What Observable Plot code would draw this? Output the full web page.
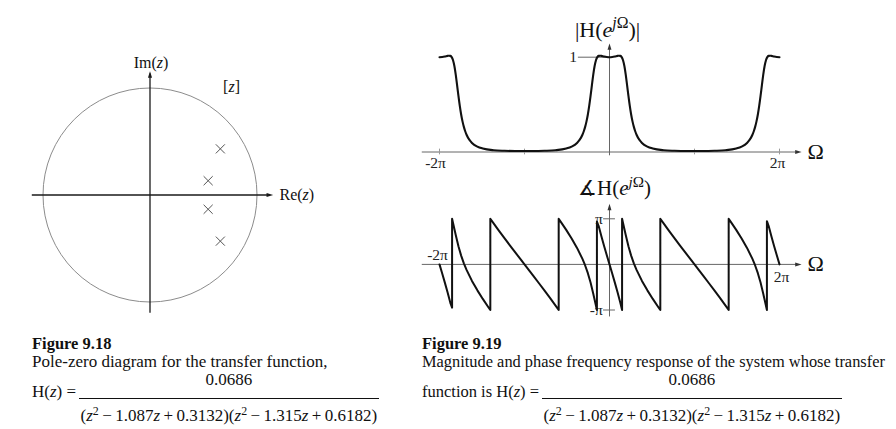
<!DOCTYPE html>
<html>
<head>
<meta charset="utf-8">
<script src="https://cdn.jsdelivr.net/npm/d3@7"></script>
<script src="https://cdn.jsdelivr.net/npm/@observablehq/plot@0.6"></script>
<style>
  html, body { margin: 0; padding: 0; background: #fff; }
  #root { position: relative; width: 896px; height: 429px; overflow: hidden; background: #fff;
          font-family: "Liberation Serif", "Times New Roman", serif; color: #111; }
  .panel { position: absolute; }
  .fig { position: absolute; font-weight: bold; font-size: 16.5px; line-height: 16.5px; white-space: nowrap; }
  .txt { position: absolute; font-size: 17px; line-height: 17px; white-space: nowrap; }
  .frac { position: absolute; display: flex; flex-direction: column; align-items: center; font-size: 17px; white-space: nowrap; }
  .frac .num { line-height: 17px; height: 17px; margin-bottom: 10px; }
  .frac .bar { align-self: stretch; height: 0; border-top: 1px solid #111; }
  .frac .den { line-height: 17px; height: 17px; margin-top: 8px; padding: 0 1.5px; }
  sup { font-size: 0.7em; vertical-align: 0.5em; line-height: 0; }
</style>
</head>
<body>
<div id="root">
  <div class="panel" id="pz" style="left:0px; top:0px"></div>
  <div class="panel" id="mag" style="left:360px; top:0px"></div>
  <div class="panel" id="pha" style="left:360px; top:180px"></div>

  <div class="fig" style="left:32px; top:336px">Figure 9.18</div>
  <div class="txt" style="left:32px; top:353px">Pole-zero diagram for the transfer function,</div>
  <div class="txt" id="pre1" style="left:32px; top:383px">H(<i>z</i>) =</div>
  <div class="frac" id="frac1" style="top:371px">
    <span class="num">0.0686</span><span class="bar"></span>
    <span class="den">(<i>z</i><sup>2</sup>&#8201;&#8722;&#8201;1.087<i>z</i>&#8201;+&#8201;0.3132)(<i>z</i><sup>2</sup>&#8201;&#8722;&#8201;1.315<i>z</i>&#8201;+&#8201;0.6182)</span>
  </div>

  <div class="fig" style="left:422px; top:336px">Figure 9.19</div>
  <div class="txt" style="left:422px; top:353px; font-size:16.4px">Magnitude and phase frequency response of the system whose transfer</div>
  <div class="txt" id="pre2" style="left:422px; top:383px; font-size:16.5px">function is H(<i>z</i>) =</div>
  <div class="frac" id="frac2" style="top:371px">
    <span class="num">0.0686</span><span class="bar"></span>
    <span class="den">(<i>z</i><sup>2</sup>&#8201;&#8722;&#8201;1.087<i>z</i>&#8201;+&#8201;0.3132)(<i>z</i><sup>2</sup>&#8201;&#8722;&#8201;1.315<i>z</i>&#8201;+&#8201;0.6182)</span>
  </div>
</div>
<script>
// ---------------- data ----------------
// Poles in the z-plane
const poleRe = [0.6575, 0.5435, 0.5435, 0.6575];
const poleIm = [0.4312, 0.1334, -0.1334, -0.4312];

// Magnitude |H(e^jΩ)| over -2π..2π
const magOmega = [
  -6.283, -6.183, -6.083, -5.983, -5.933, -5.883, -5.833, -5.783, -5.733, -5.683, -5.633, -5.583, -5.533, -5.483, -5.433, -5.383, -5.333, -5.283, -5.183, -5.083, -4.883, -4.683, -4.283, -3.883, -3.483, -3.142,
  -2.8, -2.4, -2.0, -1.6, -1.4, -1.2, -1.1, -1.0, -0.95, -0.9, -0.85, -0.8, -0.75, -0.7, -0.65, -0.6, -0.55, -0.5, -0.45, -0.4, -0.35, -0.3, -0.2, -0.1, 0,
  0.1, 0.2, 0.3, 0.35, 0.4, 0.45, 0.5, 0.55, 0.6, 0.65, 0.7, 0.75, 0.8, 0.85, 0.9, 0.95, 1.0, 1.1, 1.2, 1.4, 1.6, 2.0, 2.4, 2.8, 3.142,
  3.483, 3.883, 4.283, 4.683, 4.883, 5.083, 5.183, 5.283, 5.333, 5.383, 5.433, 5.483, 5.533, 5.583, 5.633, 5.683, 5.733, 5.783, 5.833, 5.883, 5.933, 5.983, 6.083, 6.183, 6.283
];
const magValue = [
  1.000, 1.002, 1.007, 1.014, 1.016, 1.014, 1.001, 0.968, 0.907, 0.817, 0.706, 0.591, 0.486, 0.396, 0.323, 0.265, 0.219, 0.182, 0.130, 0.096, 0.057, 0.037, 0.019, 0.013, 0.010, 0.010,
  0.010, 0.013, 0.019, 0.037, 0.057, 0.096, 0.130, 0.182, 0.219, 0.265, 0.323, 0.396, 0.486, 0.591, 0.706, 0.817, 0.907, 0.968, 1.001, 1.014, 1.016, 1.014, 1.007, 1.002, 1.000,
  1.002, 1.007, 1.014, 1.016, 1.014, 1.001, 0.968, 0.907, 0.817, 0.706, 0.591, 0.486, 0.396, 0.323, 0.265, 0.219, 0.182, 0.130, 0.096, 0.057, 0.037, 0.019, 0.013, 0.010, 0.010,
  0.010, 0.013, 0.019, 0.037, 0.057, 0.096, 0.130, 0.182, 0.219, 0.265, 0.323, 0.396, 0.486, 0.591, 0.706, 0.817, 0.907, 0.968, 1.001, 1.014, 1.016, 1.014, 1.007, 1.002, 1.000
];

// Phase ∡H(e^jΩ) over -2π..2π (wrapped, with the jumps)
const phaseOmega = [
  -6.283, -6.183, -6.083, -5.983, -5.883, -5.818, -5.818, -5.783, -5.683, -5.583, -5.483, -5.383, -5.283, -5.083, -4.883, -4.683, -4.483, -4.405, -4.405, -4.283, -4.083, -3.883, -3.683, -3.483, -3.283, -3.142,
  -3.0, -2.8, -2.6, -2.4, -2.2, -2.0, -1.878, -1.878, -1.8, -1.6, -1.4, -1.2, -1.0, -0.9, -0.8, -0.7, -0.6, -0.5, -0.465, -0.465, -0.4, -0.3, -0.2, -0.1, 0,
  0.1, 0.2, 0.3, 0.4, 0.465, 0.465, 0.5, 0.6, 0.7, 0.8, 0.9, 1.0, 1.2, 1.4, 1.6, 1.8, 1.878, 1.878, 2.0, 2.2, 2.4, 2.6, 2.8, 3.0, 3.142,
  3.283, 3.483, 3.683, 3.883, 4.083, 4.283, 4.405, 4.405, 4.483, 4.683, 4.883, 5.083, 5.283, 5.383, 5.483, 5.583, 5.683, 5.783, 5.818, 5.818, 5.883, 5.983, 6.083, 6.183, 6.283
];
const phaseValue = [
  0, -0.631, -1.272, -1.935, -2.645, -2.98, 3.142, 2.859, 2.029, 1.252, 0.605, 0.073, -0.378, -1.138, -1.789, -2.379, -2.932, -3.142, 3.142, 2.821, 2.309, 1.808, 1.315, 0.827, 0.342, 0,
  -0.342, -0.827, -1.315, -1.808, -2.309, -2.821, -3.142, 3.142, 2.932, 2.379, 1.789, 1.138, 0.378, -0.073, -0.605, -1.252, -2.029, -2.859, -3.142, 2.95, 2.645, 1.935, 1.272, 0.631, 0,
  -0.631, -1.272, -1.935, -2.645, -3.142, 3.142, 2.859, 2.029, 1.252, 0.605, 0.073, -0.378, -1.138, -1.789, -2.379, -2.932, -3.142, 3.142, 2.821, 2.309, 1.808, 1.315, 0.827, 0.342, 0,
  -0.342, -0.827, -1.315, -1.808, -2.309, -2.821, -3.142, 3.142, 2.932, 2.379, 1.789, 1.138, 0.378, -0.073, -0.605, -1.252, -2.029, -2.859, -3.142, 2.98, 2.645, 1.935, 1.272, 0.631, 0
];

// Tick values and labels
const freqTickValues = [-6.2832, -3.1416, 3.1416, 6.2832];
const freqTickLabels = ["-2π", "2π"];
const magTickValues = [1];
const magTickLabels = ["1"];
const phaseTickValues = [3.1416, -3.1416];
const phaseTickLabels = ["π", "-π"];

// ---------------- helpers ----------------
const SERIF = "'Liberation Serif', 'Times New Roman', serif";
const arrowRight = { draw(ctx, size) { const r = Math.sqrt(size / Math.PI); ctx.moveTo(0, 0); ctx.lineTo(-2 * r, -0.62 * r); ctx.lineTo(-2 * r, 0.62 * r); ctx.closePath(); } };
const arrowUp = { draw(ctx, size) { const r = Math.sqrt(size / Math.PI); ctx.moveTo(0, 0); ctx.lineTo(-0.62 * r, 2 * r); ctx.lineTo(0.62 * r, 2 * r); ctx.closePath(); } };
const svgStyle = { background: "transparent", overflow: "visible", fontFamily: SERIF };

// mini markup: _x_ italic, ^x^ superscript
function richify(svg) {
  const ns = "http://www.w3.org/2000/svg";
  svg.querySelectorAll("text").forEach(t => {
    const s = t.textContent;
    if (!/[_^]/.test(s)) return;
    const fs = parseFloat(getComputedStyle(t).fontSize) || 16;
    t.textContent = "";
    let italic = false, sup = false, buf = "", nextDy = 0;
    const flush = () => {
      if (!buf) return;
      const ts = document.createElementNS(ns, "tspan");
      if (italic) ts.setAttribute("font-style", "italic");
      if (sup) ts.setAttribute("font-size", (fs * 0.72).toFixed(2));
      if (nextDy) { ts.setAttribute("dy", nextDy.toFixed(2)); nextDy = 0; }
      ts.textContent = buf; t.appendChild(ts); buf = "";
    };
    for (const ch of s) {
      if (ch === "_") { flush(); italic = !italic; }
      else if (ch === "^") { flush(); sup = !sup; nextDy += sup ? -fs * 0.42 : fs * 0.42; }
      else buf += ch;
    }
    flush();
  });
}

// ---------------- pole-zero diagram ----------------
const poles = poleRe.map((re, i) => ({ re, im: poleIm[i] }));
const pz = Plot.plot({
  width: 360, height: 330,
  style: svgStyle,
  x: { domain: [-1, 1], range: [42.5, 256.5], axis: null },
  y: { domain: [-1, 1], range: [301.5, 87.5], axis: null },
  r: { type: "linear", domain: [0, 1], range: [0, 107] },
  marks: [
    Plot.dot([{ x: 0, y: 0, r: 1 }], { x: "x", y: "y", r: "r", stroke: "#8c8c8c", strokeWidth: 1, fill: "none" }),
    Plot.ruleY([0], { x1: -1.10, x2: 1.12, stroke: "#1a1a1a", strokeWidth: 1.3 }),
    Plot.ruleX([0], { y1: -1.105, y2: 1.13, stroke: "#1a1a1a", strokeWidth: 1.3 }),
    Plot.dot([{ x: 1.151, y: 0 }], { x: "x", y: "y", symbol: arrowRight, r: 3.3, fill: "#1a1a1a", stroke: "none" }),
    Plot.dot([{ x: 0, y: 1.157 }], { x: "x", y: "y", symbol: arrowUp, r: 3.3, fill: "#1a1a1a", stroke: "none" }),
    Plot.dot(poles, { x: "re", y: "im", symbol: "times", r: 4.2, stroke: "#555", strokeWidth: 1 }),
    Plot.text(["Im(_z_)"], { x: 0.01, y: 1.238, text: d => d, fontSize: 16, fontFamily: SERIF, fill: "#111" }),
    Plot.text(["[_z_]"], { x: 0.762, y: 1.014, text: d => d, fontSize: 16, fontFamily: SERIF, fill: "#111" }),
    Plot.text(["Re(_z_)"], { x: 1.21, y: 0, text: d => d, textAnchor: "start", fontSize: 16, fontFamily: SERIF, fill: "#111" })
  ]
});
document.getElementById("pz").appendChild(pz);
richify(pz);

// ---------------- magnitude ----------------
const magData = magOmega.map((w, i) => ({ w, v: magValue[i] }));
const mag = Plot.plot({
  width: 536, height: 180,
  style: svgStyle,
  x: { domain: [-6.2832, 6.2832], range: [79, 419], axis: null },
  y: { domain: [0, 1], range: [151.5, 56.7], axis: null },
  marks: [
    Plot.ruleY([0], { x1: -6.92, x2: 6.95, stroke: "#666", strokeWidth: 1 }),
    Plot.ruleX(freqTickValues, { y1: -0.03, y2: 0.03, stroke: "#999", strokeWidth: 1 }),
    Plot.ruleX([0], { y1: -0.04, y2: 1.10, stroke: "#666", strokeWidth: 1 }),
    Plot.dot([{ x: 7.10, y: 0 }], { x: "x", y: "y", symbol: arrowRight, r: 3.2, fill: "#333", stroke: "none" }),
    Plot.dot([{ x: 0, y: 1.145 }], { x: "x", y: "y", symbol: arrowUp, r: 3.2, fill: "#333", stroke: "none" }),
    Plot.ruleY(magTickValues, { x1: -1.15, x2: 0, stroke: "#666", strokeWidth: 1 }),
    Plot.text(magTickLabels, { x: -1.2, y: (d, i) => magTickValues[i], text: d => d, textAnchor: "end", fontSize: 15.5, fontFamily: SERIF, fill: "#222" }),
    Plot.line(magData, { x: "w", y: "v", curve: "monotone-x", stroke: "#111", strokeWidth: 2.1 }),
    Plot.text([freqTickLabels[0]], { x: -6.2832, y: -0.121, dx: -4, text: d => d, fontSize: 15.5, fontFamily: SERIF, fill: "#222" }),
    Plot.text([freqTickLabels[1]], { x: 6.2832, y: -0.121, dx: -2, text: d => d, fontSize: 15.5, fontFamily: SERIF, fill: "#222" }),
    Plot.text(["Ω"], { x: 7.32, y: 0, text: d => d, textAnchor: "start", fontSize: 22, fontFamily: SERIF, fill: "#111" }),
    Plot.text(["|H(_e_^_j_Ω^)|"], { x: -0.07, y: 1.29, text: d => d, fontSize: 22, fontFamily: SERIF, fill: "#111" })
  ]
});
document.getElementById("mag").appendChild(mag);
richify(mag);

// ---------------- phase ----------------
const phaseData = phaseOmega.map((w, i) => ({ w, v: phaseValue[i] }));
const pha = Plot.plot({
  width: 536, height: 150,
  style: svgStyle,
  x: { domain: [-6.2832, 6.2832], range: [79, 419], axis: null },
  y: { domain: [-3.1416, 3.1416], range: [129.5, 38.3], axis: null },
  marks: [
    Plot.ruleY([0], { x1: -6.92, x2: 6.95, stroke: "#666", strokeWidth: 1 }),
    Plot.ruleX([0], { y1: -3.62, y2: 4.0, stroke: "#666", strokeWidth: 1 }),
    Plot.dot([{ x: 7.10, y: 0 }], { x: "x", y: "y", symbol: arrowRight, r: 3.2, fill: "#333", stroke: "none" }),
    Plot.dot([{ x: 0, y: 4.17 }], { x: "x", y: "y", symbol: arrowUp, r: 3.2, fill: "#333", stroke: "none" }),
    Plot.ruleY(phaseTickValues, { x1: -0.22, x2: 0.22, stroke: "#666", strokeWidth: 1 }),
    Plot.text(phaseTickLabels, { x: -0.25, y: (d, i) => phaseTickValues[i], text: d => d, textAnchor: "end", fontSize: 15.5, fontFamily: SERIF, fill: "#222" }),
    Plot.line(phaseData, { x: "w", y: "v", stroke: "#111", strokeWidth: 2 }),
    Plot.text([freqTickLabels[0]], { x: -6.2832, y: 0.62, dx: -2, text: d => d, fontSize: 15.5, fontFamily: SERIF, fill: "#222" }),
    Plot.text([freqTickLabels[1]], { x: 6.2832, y: -0.89, dx: 2, text: d => d, fontSize: 15.5, fontFamily: SERIF, fill: "#222" }),
    Plot.text(["Ω"], { x: 7.32, y: 0, text: d => d, textAnchor: "start", fontSize: 22, fontFamily: SERIF, fill: "#111" }),
    Plot.text(["∡H(_e_^_j_Ω^)"], { x: 0.185, y: 5.22, text: d => d, fontSize: 21, fontFamily: SERIF, fill: "#111" })
  ]
});
document.getElementById("pha").appendChild(pha);
richify(pha);

// ---------------- caption fractions placement ----------------
for (const [p, f] of [["pre1", "frac1"], ["pre2", "frac2"]]) {
  const pre = document.getElementById(p), frac = document.getElementById(f);
  frac.style.left = (pre.offsetLeft + pre.offsetWidth + 3) + "px";
}
</script>
</body>
</html>
